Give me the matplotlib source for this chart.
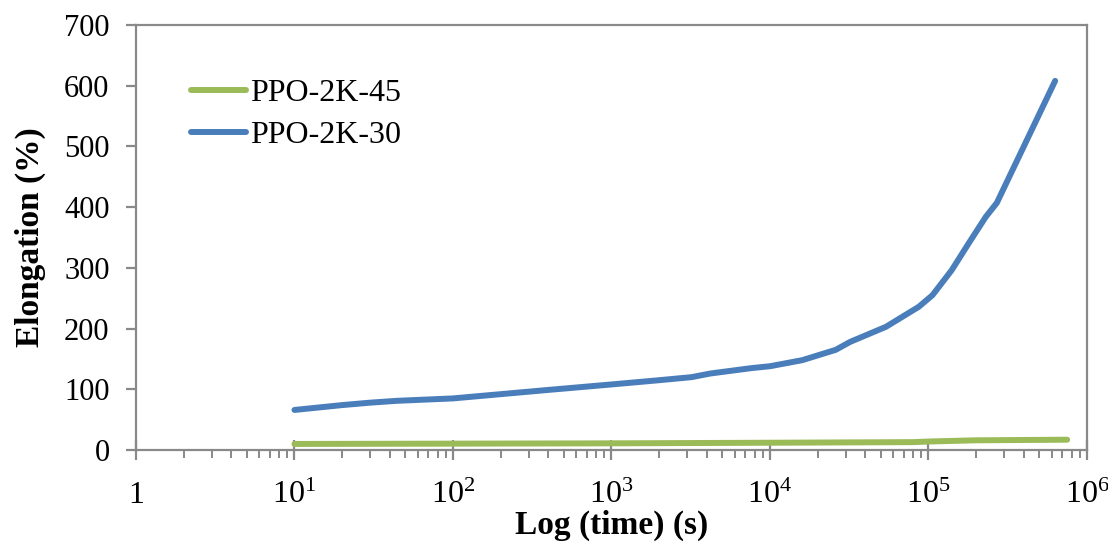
import numpy as np
import matplotlib
matplotlib.use('Agg')
import matplotlib.pyplot as plt
from matplotlib.ticker import LogLocator, NullFormatter, FixedLocator

plt.rcParams['font.family'] = ['Liberation Serif', 'DejaVu Serif']
plt.rcParams['mathtext.fontset'] = 'custom'
plt.rcParams['mathtext.rm'] = 'Liberation Serif'

# time (s) and elongation (%)
time_30 = [10, 20, 30, 44, 100, 200, 400, 1000, 2000, 3200, 4200, 7700, 10000, 16000,
           26000, 32000, 54000, 87000, 106000, 140000, 180000, 230000, 270000, 630000]
elong_30 = [66, 74, 78, 81, 85, 92, 99, 108, 115, 120, 126, 135, 138, 148,
            165, 178, 203, 236, 255, 296, 341, 384, 407, 608]

time_45 = [10, 100, 1000, 10000, 80000, 100000, 200000, 750000]
elong_45 = [10, 10.5, 11, 12, 13, 14, 16, 17]

x_ticks = [1, 10, 100, 1000, 10000, 100000, 1000000]
x_labels = [r'$\mathregular{1}$', r'$\mathregular{10^{1}}$', r'$\mathregular{10^{2}}$',
            r'$\mathregular{10^{3}}$', r'$\mathregular{10^{4}}$', r'$\mathregular{10^{5}}$',
            r'$\mathregular{10^{6}}$']
y_ticks = [0, 100, 200, 300, 400, 500, 600, 700]

grey = '#898989'

fig = plt.figure(figsize=(11.08, 5.42), dpi=100)
ax = fig.add_axes([0.1227, 0.1697, 0.8583, 0.7842])

ax.plot(time_45, elong_45, color='#9BBB59', lw=4.3, solid_capstyle='round',
        solid_joinstyle='round', label='PPO-2K-45')
ax.plot(time_30, elong_30, color='#4A7EBB', lw=4.3, solid_capstyle='round',
        solid_joinstyle='round', label='PPO-2K-30')

ax.set_xscale('log')
ax.set_xlim(1, 1e6)
ax.set_ylim(0, 700)
ax.xaxis.set_major_locator(FixedLocator(x_ticks))
ax.set_xticklabels(x_labels)
ax.xaxis.set_minor_locator(LogLocator(base=10, subs=np.arange(2, 10)))
ax.xaxis.set_minor_formatter(NullFormatter())
ax.set_yticks(y_ticks)

for s in ax.spines.values():
    s.set_color(grey)
    s.set_linewidth(1.6)

ax.tick_params(axis='y', which='major', direction='out', length=7, width=1.6, color=grey,
               labelsize=22, pad=12)
ax.tick_params(axis='x', which='major', direction='inout', length=14, width=1.6, color=grey,
               labelsize=23, pad=15)
ax.tick_params(axis='x', which='minor', direction='out', length=6, width=1.4, color=grey)

ax.set_xlabel('Log (time) (s)', fontsize=24, fontweight='bold')
ax.xaxis.set_label_coords(0.5, -0.14)
ax.set_ylabel('Elongation (%)', fontsize=24, fontweight='bold', labelpad=13)

ax.legend(loc='upper left', bbox_to_anchor=(0.028, 0.942), frameon=False, fontsize=23,
          handlelength=1.7, handletextpad=0.13, labelspacing=0.4)

fig.savefig('out.png', dpi=100)
